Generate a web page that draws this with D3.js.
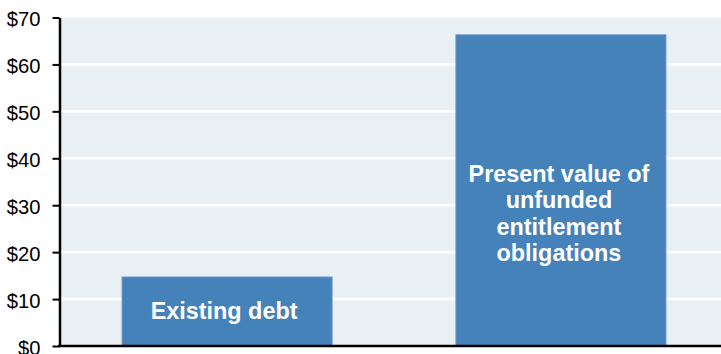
<!DOCTYPE html>
<html>
<head>
<meta charset="utf-8">
<script src="https://cdn.jsdelivr.net/npm/d3@7"></script>
<style>
  body { margin: 0; background: #fff; }
  svg text { font-family: "Liberation Sans", Arial, sans-serif; }
</style>
</head>
<body>
<div id="chart"></div>
<script>

var categories = ["Existing debt", "Present value of unfunded entitlement obligations"];
var values = [14.7, 66.3];
var barLabels = [["Existing debt"], ["Present value of", "unfunded", "entitlement", "obligations"]];
var yTicks = [0, 10, 20, 30, 40, 50, 60, 70];

var width = 721, height = 354;

var x = d3.scaleBand()
    .domain(categories)
    .range([61, 727])
    .paddingInner(0.371)
    .paddingOuter(0.183);

var y = d3.scaleLinear()
    .domain([0, 70])
    .range([346, 17.5]);

var svg = d3.select("#chart").append("svg")
    .attr("width", width)
    .attr("height", height);

// plot background
svg.append("rect")
    .attr("x", 61)
    .attr("y", y(70))
    .attr("width", width - 61)
    .attr("height", y(0) - y(70))
    .attr("fill", "#e8f0f4");

// gridlines
svg.append("g")
    .selectAll("line")
    .data(yTicks.filter(function(d) { return d > 0 && d < 70; }))
    .enter().append("line")
    .attr("x1", 61)
    .attr("x2", width)
    .attr("y1", function(d) { return y(d); })
    .attr("y2", function(d) { return y(d); })
    .attr("stroke", "#fff")
    .attr("stroke-width", 2.5);

// bars
svg.append("g")
    .selectAll("rect")
    .data(values)
    .enter().append("rect")
    .attr("x", function(d, i) { return x(categories[i]); })
    .attr("y", function(d) { return y(d); })
    .attr("width", x.bandwidth())
    .attr("height", function(d) { return y(0) - y(d); })
    .attr("fill", "#4682ba")
    .attr("stroke", "#6393c6")
    .attr("stroke-width", 1);

// bar labels
var lineHeight = 26.5;
var labelBase = [319.3, 181.7];
var labelShift = [-3, -2];
barLabels.forEach(function(lines, i) {
    var cx = x(categories[i]) + x.bandwidth() / 2 + labelShift[i];
    var t = svg.append("text")
        .attr("text-anchor", "middle")
        .attr("fill", "#fff")
        .attr("font-weight", "bold")
        .attr("font-size", "23.4px");
    lines.forEach(function(s, j) {
        t.append("tspan")
            .attr("x", cx)
            .attr("y", labelBase[i] + j * lineHeight)
            .text(s);
    });
});

// y axis
var yAxis = svg.append("g")
    .attr("transform", "translate(59.5,0)")
    .call(d3.axisLeft(y)
        .tickValues(yTicks)
        .tickSize(7)
        .tickSizeOuter(0)
        .tickPadding(12)
        .tickFormat(function(d) { return "$" + d; }));

yAxis.select(".domain")
    .attr("stroke", "#000")
    .attr("stroke-width", 2.5);
yAxis.selectAll(".tick line")
    .attr("stroke", "#000")
    .attr("stroke-width", 2);
yAxis.selectAll(".tick text")
    .attr("fill", "#000")
    .attr("font-size", "20.2px")
    .attr("font-family", "Liberation Sans, Arial, sans-serif")
    .attr("dy", "0.42em");

// x axis baseline
svg.append("line")
    .attr("x1", 58)
    .attr("x2", width)
    .attr("y1", y(0))
    .attr("y2", y(0))
    .attr("stroke", "#000")
    .attr("stroke-width", 2.5);

</script>
</body>
</html>
